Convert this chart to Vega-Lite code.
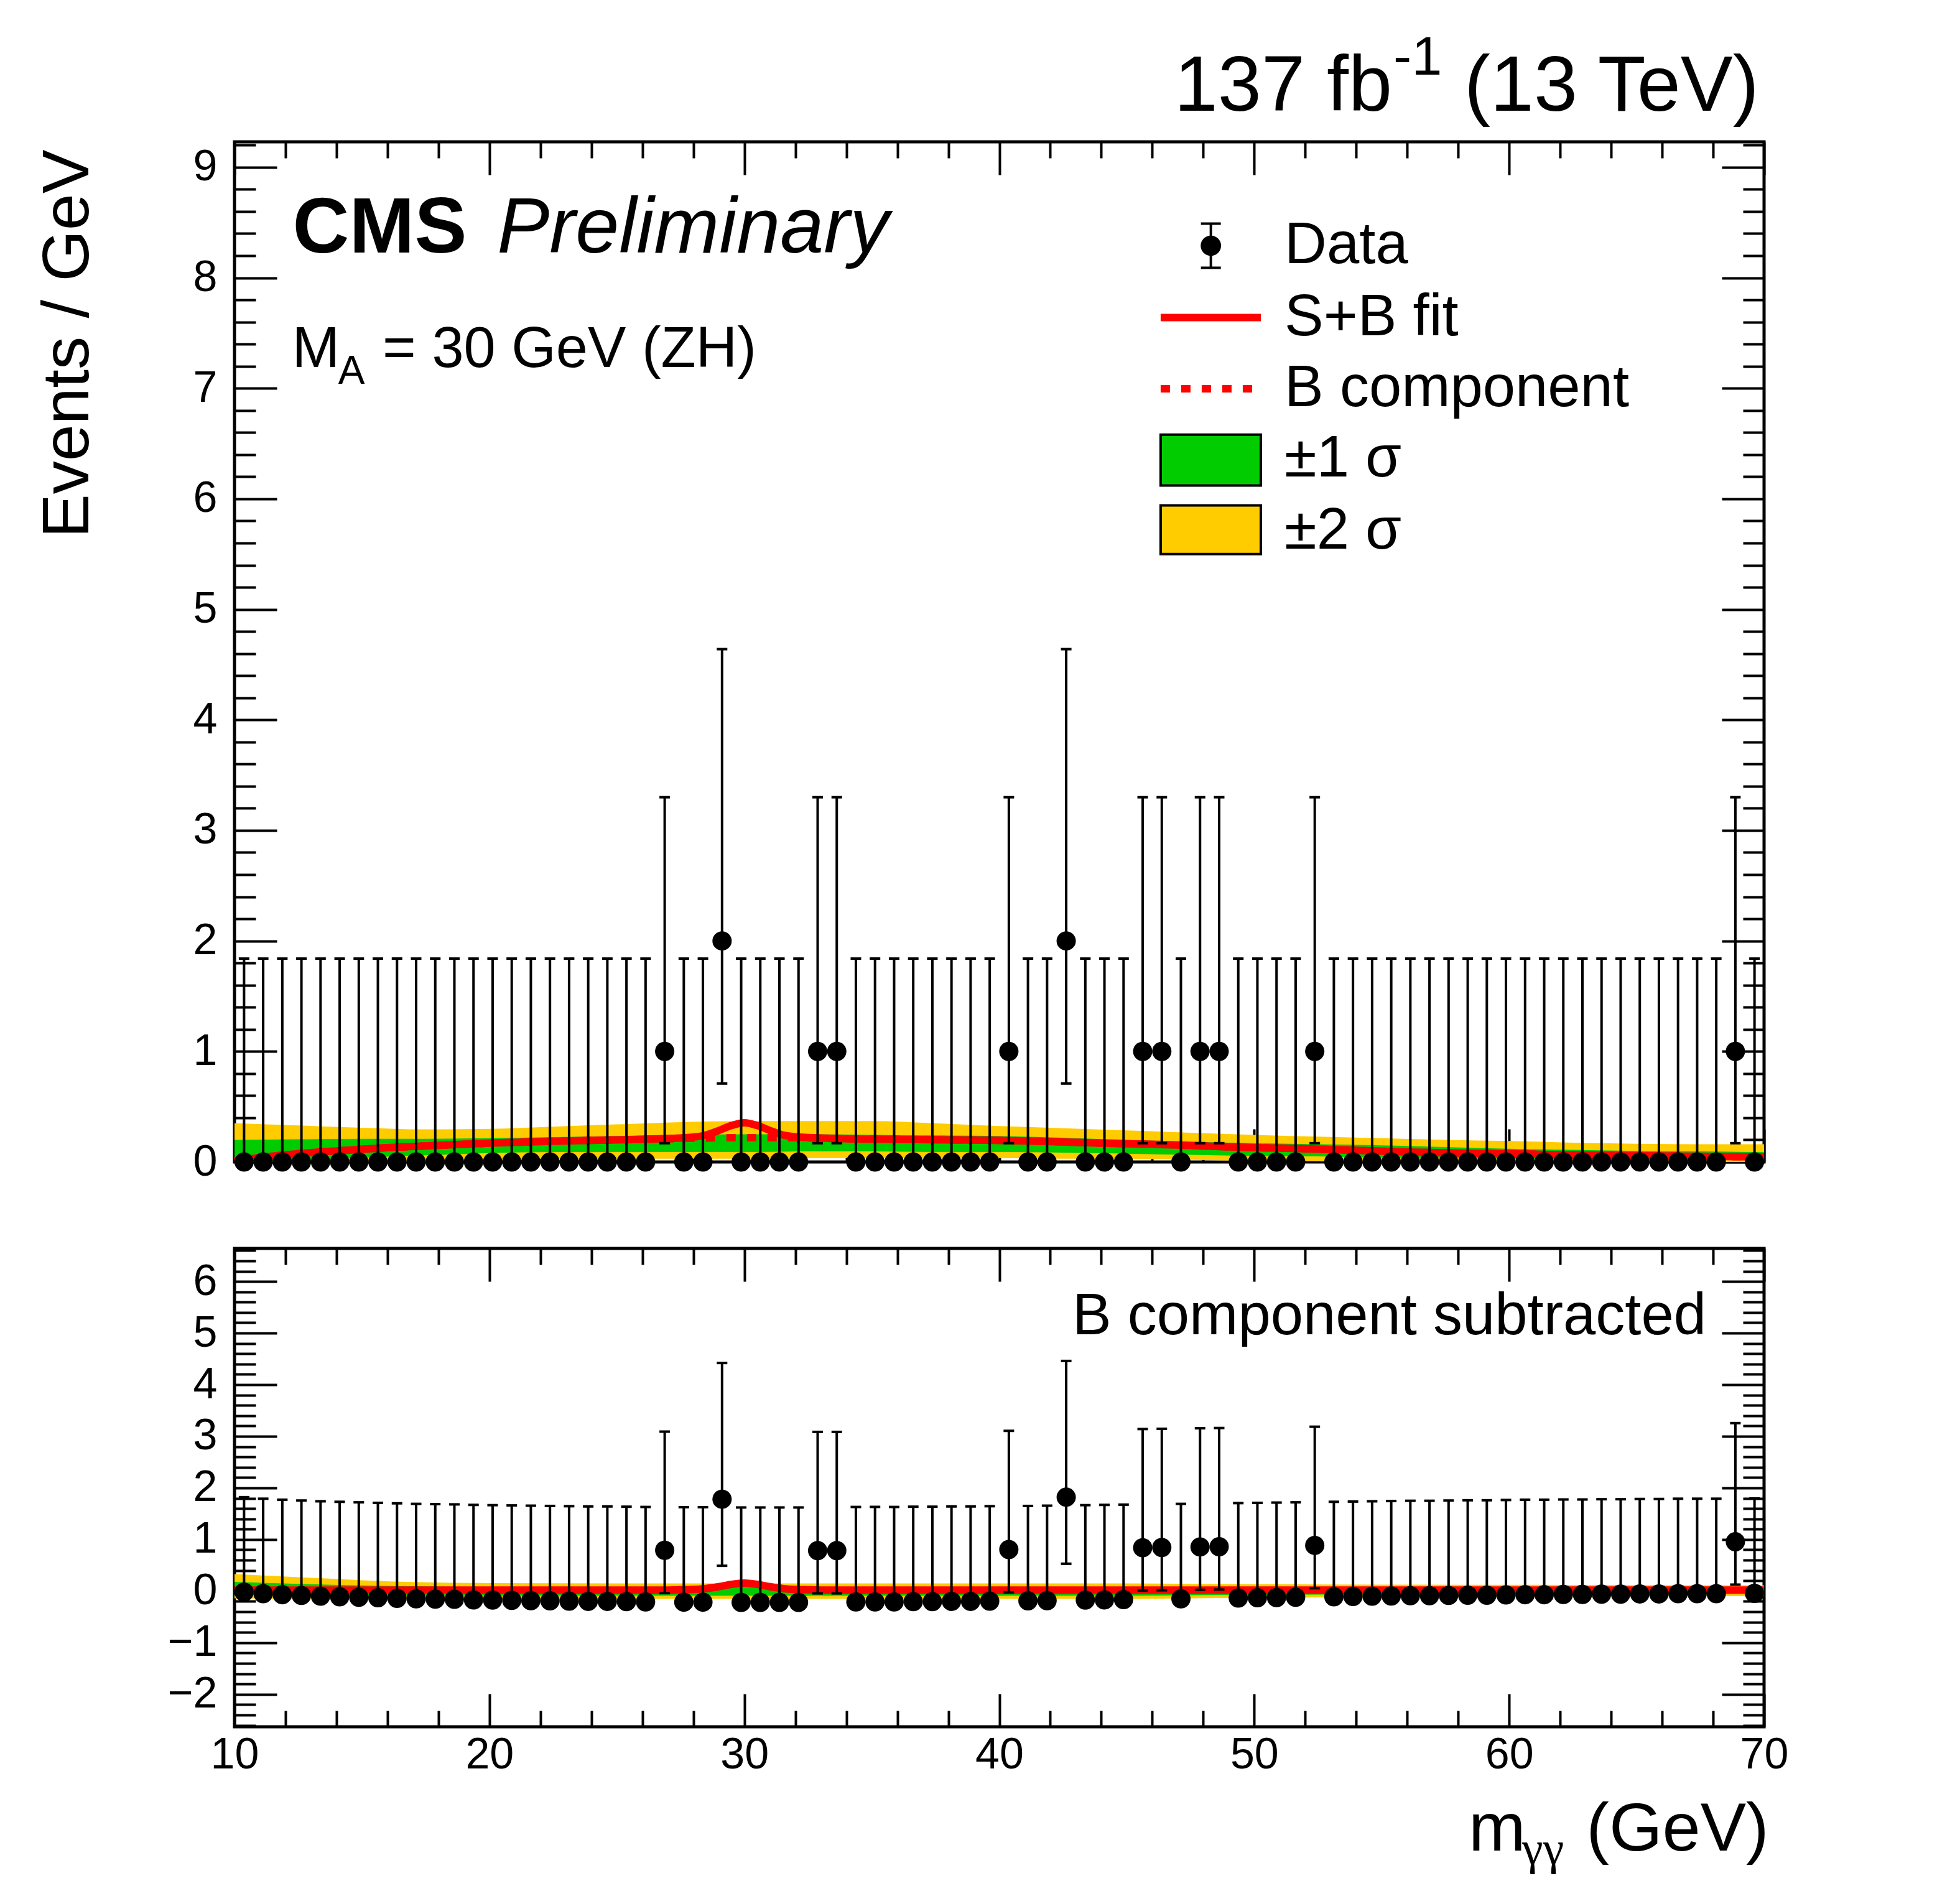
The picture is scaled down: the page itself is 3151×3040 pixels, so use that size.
{
  "$schema": "https://vega.github.io/schema/vega-lite/v6.json",
  "padding": {"left": 53, "top": 47, "right": 5, "bottom": 5},
  "background": "white",
  "config": {
    "font": "Liberation Sans",
    "view": {"stroke": "#000000", "strokeWidth": 5},
    "axis": {
      "domain": false, "grid": false, "tickColor": "#000000", "tickWidth": 4,
      "labelColor": "#000000", "labelFont": "Liberation Sans", "labelFontSize": 70,
      "labelFlush": false, "labelOverlap": false
    }
  },
  "datasets": {
    "bins": [
      {"x":10.375,"n":0,"lo":0,"hi":1.84},{"x":11.125,"n":0,"lo":0,"hi":1.84},{"x":11.875,"n":0,"lo":0,"hi":1.84},{"x":12.625,"n":0,"lo":0,"hi":1.84},
      {"x":13.375,"n":0,"lo":0,"hi":1.84},{"x":14.125,"n":0,"lo":0,"hi":1.84},{"x":14.875,"n":0,"lo":0,"hi":1.84},{"x":15.625,"n":0,"lo":0,"hi":1.84},
      {"x":16.375,"n":0,"lo":0,"hi":1.84},{"x":17.125,"n":0,"lo":0,"hi":1.84},{"x":17.875,"n":0,"lo":0,"hi":1.84},{"x":18.625,"n":0,"lo":0,"hi":1.84},
      {"x":19.375,"n":0,"lo":0,"hi":1.84},{"x":20.125,"n":0,"lo":0,"hi":1.84},{"x":20.875,"n":0,"lo":0,"hi":1.84},{"x":21.625,"n":0,"lo":0,"hi":1.84},
      {"x":22.375,"n":0,"lo":0,"hi":1.84},{"x":23.125,"n":0,"lo":0,"hi":1.84},{"x":23.875,"n":0,"lo":0,"hi":1.84},{"x":24.625,"n":0,"lo":0,"hi":1.84},
      {"x":25.375,"n":0,"lo":0,"hi":1.84},{"x":26.125,"n":0,"lo":0,"hi":1.84},{"x":26.875,"n":1,"lo":0.17,"hi":3.3},{"x":27.625,"n":0,"lo":0,"hi":1.84},
      {"x":28.375,"n":0,"lo":0,"hi":1.84},{"x":29.125,"n":2,"lo":0.71,"hi":4.64},{"x":29.875,"n":0,"lo":0,"hi":1.84},{"x":30.625,"n":0,"lo":0,"hi":1.84},
      {"x":31.375,"n":0,"lo":0,"hi":1.84},{"x":32.125,"n":0,"lo":0,"hi":1.84},{"x":32.875,"n":1,"lo":0.17,"hi":3.3},{"x":33.625,"n":1,"lo":0.17,"hi":3.3},
      {"x":34.375,"n":0,"lo":0,"hi":1.84},{"x":35.125,"n":0,"lo":0,"hi":1.84},{"x":35.875,"n":0,"lo":0,"hi":1.84},{"x":36.625,"n":0,"lo":0,"hi":1.84},
      {"x":37.375,"n":0,"lo":0,"hi":1.84},{"x":38.125,"n":0,"lo":0,"hi":1.84},{"x":38.875,"n":0,"lo":0,"hi":1.84},{"x":39.625,"n":0,"lo":0,"hi":1.84},
      {"x":40.375,"n":1,"lo":0.17,"hi":3.3},{"x":41.125,"n":0,"lo":0,"hi":1.84},{"x":41.875,"n":0,"lo":0,"hi":1.84},{"x":42.625,"n":2,"lo":0.71,"hi":4.64},
      {"x":43.375,"n":0,"lo":0,"hi":1.84},{"x":44.125,"n":0,"lo":0,"hi":1.84},{"x":44.875,"n":0,"lo":0,"hi":1.84},{"x":45.625,"n":1,"lo":0.17,"hi":3.3},
      {"x":46.375,"n":1,"lo":0.17,"hi":3.3},{"x":47.125,"n":0,"lo":0,"hi":1.84},{"x":47.875,"n":1,"lo":0.17,"hi":3.3},{"x":48.625,"n":1,"lo":0.17,"hi":3.3},
      {"x":49.375,"n":0,"lo":0,"hi":1.84},{"x":50.125,"n":0,"lo":0,"hi":1.84},{"x":50.875,"n":0,"lo":0,"hi":1.84},{"x":51.625,"n":0,"lo":0,"hi":1.84},
      {"x":52.375,"n":1,"lo":0.17,"hi":3.3},{"x":53.125,"n":0,"lo":0,"hi":1.84},{"x":53.875,"n":0,"lo":0,"hi":1.84},{"x":54.625,"n":0,"lo":0,"hi":1.84},
      {"x":55.375,"n":0,"lo":0,"hi":1.84},{"x":56.125,"n":0,"lo":0,"hi":1.84},{"x":56.875,"n":0,"lo":0,"hi":1.84},{"x":57.625,"n":0,"lo":0,"hi":1.84},
      {"x":58.375,"n":0,"lo":0,"hi":1.84},{"x":59.125,"n":0,"lo":0,"hi":1.84},{"x":59.875,"n":0,"lo":0,"hi":1.84},{"x":60.625,"n":0,"lo":0,"hi":1.84},
      {"x":61.375,"n":0,"lo":0,"hi":1.84},{"x":62.125,"n":0,"lo":0,"hi":1.84},{"x":62.875,"n":0,"lo":0,"hi":1.84},{"x":63.625,"n":0,"lo":0,"hi":1.84},
      {"x":64.375,"n":0,"lo":0,"hi":1.84},{"x":65.125,"n":0,"lo":0,"hi":1.84},{"x":65.875,"n":0,"lo":0,"hi":1.84},{"x":66.625,"n":0,"lo":0,"hi":1.84},
      {"x":67.375,"n":0,"lo":0,"hi":1.84},{"x":68.125,"n":0,"lo":0,"hi":1.84},{"x":68.875,"n":1,"lo":0.17,"hi":3.3},{"x":69.625,"n":0,"lo":0,"hi":1.84}
    ],
    "resid": [
      {"x":10.375,"v":-0.02,"lo":-0.02,"hi":1.82},{"x":11.125,"v":-0.05,"lo":-0.05,"hi":1.79},{"x":11.875,"v":-0.07,"lo":-0.07,"hi":1.77},{"x":12.625,"v":-0.085,"lo":-0.085,"hi":1.755},
      {"x":13.375,"v":-0.1,"lo":-0.1,"hi":1.74},{"x":14.125,"v":-0.11,"lo":-0.11,"hi":1.73},{"x":14.875,"v":-0.12,"lo":-0.12,"hi":1.72},{"x":15.625,"v":-0.13,"lo":-0.13,"hi":1.71},
      {"x":16.375,"v":-0.14,"lo":-0.14,"hi":1.7},{"x":17.125,"v":-0.15,"lo":-0.15,"hi":1.69},{"x":17.875,"v":-0.155,"lo":-0.155,"hi":1.685},{"x":18.625,"v":-0.16,"lo":-0.16,"hi":1.68},
      {"x":19.375,"v":-0.17,"lo":-0.17,"hi":1.67},{"x":20.125,"v":-0.175,"lo":-0.175,"hi":1.665},{"x":20.875,"v":-0.18,"lo":-0.18,"hi":1.66},{"x":21.625,"v":-0.185,"lo":-0.185,"hi":1.655},
      {"x":22.375,"v":-0.19,"lo":-0.19,"hi":1.65},{"x":23.125,"v":-0.195,"lo":-0.195,"hi":1.645},{"x":23.875,"v":-0.2,"lo":-0.2,"hi":1.64},{"x":24.625,"v":-0.2,"lo":-0.2,"hi":1.64},
      {"x":25.375,"v":-0.205,"lo":-0.205,"hi":1.635},{"x":26.125,"v":-0.21,"lo":-0.21,"hi":1.63},{"x":26.875,"v":0.79,"lo":-0.04,"hi":3.09},{"x":27.625,"v":-0.215,"lo":-0.215,"hi":1.625},
      {"x":28.375,"v":-0.215,"lo":-0.215,"hi":1.625},{"x":29.125,"v":1.78,"lo":0.49,"hi":4.42},{"x":29.875,"v":-0.22,"lo":-0.22,"hi":1.62},{"x":30.625,"v":-0.22,"lo":-0.22,"hi":1.62},
      {"x":31.375,"v":-0.22,"lo":-0.22,"hi":1.62},{"x":32.125,"v":-0.22,"lo":-0.22,"hi":1.62},{"x":32.875,"v":0.785,"lo":-0.045,"hi":3.085},{"x":33.625,"v":0.785,"lo":-0.045,"hi":3.085},
      {"x":34.375,"v":-0.21,"lo":-0.21,"hi":1.63},{"x":35.125,"v":-0.21,"lo":-0.21,"hi":1.63},{"x":35.875,"v":-0.21,"lo":-0.21,"hi":1.63},{"x":36.625,"v":-0.205,"lo":-0.205,"hi":1.635},
      {"x":37.375,"v":-0.205,"lo":-0.205,"hi":1.635},{"x":38.125,"v":-0.2,"lo":-0.2,"hi":1.64},{"x":38.875,"v":-0.2,"lo":-0.2,"hi":1.64},{"x":39.625,"v":-0.195,"lo":-0.195,"hi":1.645},
      {"x":40.375,"v":0.805,"lo":-0.025,"hi":3.105},{"x":41.125,"v":-0.19,"lo":-0.19,"hi":1.65},{"x":41.875,"v":-0.185,"lo":-0.185,"hi":1.655},{"x":42.625,"v":1.82,"lo":0.53,"hi":4.46},
      {"x":43.375,"v":-0.175,"lo":-0.175,"hi":1.665},{"x":44.125,"v":-0.17,"lo":-0.17,"hi":1.67},{"x":44.875,"v":-0.165,"lo":-0.165,"hi":1.675},{"x":45.625,"v":0.84,"lo":0.01,"hi":3.14},
      {"x":46.375,"v":0.845,"lo":0.015,"hi":3.145},{"x":47.125,"v":-0.15,"lo":-0.15,"hi":1.69},{"x":47.875,"v":0.855,"lo":0.025,"hi":3.155},{"x":48.625,"v":0.86,"lo":0.03,"hi":3.16},
      {"x":49.375,"v":-0.135,"lo":-0.135,"hi":1.705},{"x":50.125,"v":-0.13,"lo":-0.13,"hi":1.71},{"x":50.875,"v":-0.125,"lo":-0.125,"hi":1.715},{"x":51.625,"v":-0.12,"lo":-0.12,"hi":1.72},
      {"x":52.375,"v":0.885,"lo":0.055,"hi":3.185},{"x":53.125,"v":-0.11,"lo":-0.11,"hi":1.73},{"x":53.875,"v":-0.105,"lo":-0.105,"hi":1.735},{"x":54.625,"v":-0.1,"lo":-0.1,"hi":1.74},
      {"x":55.375,"v":-0.095,"lo":-0.095,"hi":1.745},{"x":56.125,"v":-0.09,"lo":-0.09,"hi":1.75},{"x":56.875,"v":-0.09,"lo":-0.09,"hi":1.75},{"x":57.625,"v":-0.085,"lo":-0.085,"hi":1.755},
      {"x":58.375,"v":-0.08,"lo":-0.08,"hi":1.76},{"x":59.125,"v":-0.08,"lo":-0.08,"hi":1.76},{"x":59.875,"v":-0.075,"lo":-0.075,"hi":1.765},{"x":60.625,"v":-0.07,"lo":-0.07,"hi":1.77},
      {"x":61.375,"v":-0.07,"lo":-0.07,"hi":1.77},{"x":62.125,"v":-0.065,"lo":-0.065,"hi":1.775},{"x":62.875,"v":-0.065,"lo":-0.065,"hi":1.775},{"x":63.625,"v":-0.06,"lo":-0.06,"hi":1.78},
      {"x":64.375,"v":-0.06,"lo":-0.06,"hi":1.78},{"x":65.125,"v":-0.055,"lo":-0.055,"hi":1.785},{"x":65.875,"v":-0.055,"lo":-0.055,"hi":1.785},{"x":66.625,"v":-0.05,"lo":-0.05,"hi":1.79},
      {"x":67.375,"v":-0.05,"lo":-0.05,"hi":1.79},{"x":68.125,"v":-0.05,"lo":-0.05,"hi":1.79},{"x":68.875,"v":0.955,"lo":0.125,"hi":3.255},{"x":69.625,"v":-0.045,"lo":-0.045,"hi":1.795}
    ],
    "bandTop": [
      {"x":10,"ylo":0,"glo":0,"ghi":0.2,"yhi":0.35},{"x":12.5,"ylo":0,"glo":0.02,"ghi":0.205,"yhi":0.33},
      {"x":15,"ylo":0,"glo":0.04,"ghi":0.21,"yhi":0.31},{"x":17.5,"ylo":0,"glo":0.06,"ghi":0.21,"yhi":0.295},
      {"x":20,"ylo":0.02,"glo":0.08,"ghi":0.215,"yhi":0.3},{"x":22.5,"ylo":0.03,"glo":0.09,"ghi":0.225,"yhi":0.32},
      {"x":25,"ylo":0.03,"glo":0.09,"ghi":0.235,"yhi":0.34},{"x":27.5,"ylo":0.03,"glo":0.09,"ghi":0.245,"yhi":0.36},
      {"x":30,"ylo":0.03,"glo":0.09,"ghi":0.25,"yhi":0.37},{"x":32.5,"ylo":0.035,"glo":0.095,"ghi":0.25,"yhi":0.37},
      {"x":35,"ylo":0.035,"glo":0.095,"ghi":0.245,"yhi":0.37},{"x":37.5,"ylo":0.035,"glo":0.09,"ghi":0.24,"yhi":0.35},
      {"x":40,"ylo":0.035,"glo":0.09,"ghi":0.235,"yhi":0.325},{"x":42.5,"ylo":0.03,"glo":0.085,"ghi":0.22,"yhi":0.305},
      {"x":45,"ylo":0.03,"glo":0.075,"ghi":0.2,"yhi":0.285},{"x":47.5,"ylo":0.02,"glo":0.065,"ghi":0.185,"yhi":0.265},
      {"x":50,"ylo":0.01,"glo":0.055,"ghi":0.17,"yhi":0.245},{"x":52.5,"ylo":0.005,"glo":0.05,"ghi":0.16,"yhi":0.23},
      {"x":55,"ylo":0,"glo":0.04,"ghi":0.15,"yhi":0.215},{"x":57.5,"ylo":0,"glo":0.035,"ghi":0.135,"yhi":0.2},
      {"x":60,"ylo":0,"glo":0.03,"ghi":0.12,"yhi":0.19},{"x":62.5,"ylo":0,"glo":0.025,"ghi":0.11,"yhi":0.175},
      {"x":65,"ylo":0,"glo":0.02,"ghi":0.1,"yhi":0.165},{"x":67.5,"ylo":0,"glo":0.02,"ghi":0.095,"yhi":0.16},
      {"x":70,"ylo":0,"glo":0.02,"ghi":0.09,"yhi":0.16}
    ],
    "bandBot": [
      {"x":10,"ylo":-0.14,"glo":-0.08,"ghi":0.18,"yhi":0.33},{"x":12.5,"ylo":-0.15,"glo":-0.09,"ghi":0.14,"yhi":0.27},
      {"x":15,"ylo":-0.15,"glo":-0.09,"ghi":0.11,"yhi":0.21},{"x":17.5,"ylo":-0.15,"glo":-0.09,"ghi":0.09,"yhi":0.17},
      {"x":20,"ylo":-0.15,"glo":-0.09,"ghi":0.08,"yhi":0.155},{"x":25,"ylo":-0.15,"glo":-0.09,"ghi":0.08,"yhi":0.15},
      {"x":30,"ylo":-0.15,"glo":-0.09,"ghi":0.08,"yhi":0.15},{"x":35,"ylo":-0.15,"glo":-0.09,"ghi":0.08,"yhi":0.15},
      {"x":40,"ylo":-0.15,"glo":-0.09,"ghi":0.08,"yhi":0.15},{"x":45,"ylo":-0.15,"glo":-0.09,"ghi":0.08,"yhi":0.15},
      {"x":47.5,"ylo":-0.14,"glo":-0.08,"ghi":0.075,"yhi":0.14},{"x":50,"ylo":-0.13,"glo":-0.075,"ghi":0.07,"yhi":0.135},
      {"x":55,"ylo":-0.12,"glo":-0.065,"ghi":0.065,"yhi":0.125},{"x":60,"ylo":-0.11,"glo":-0.06,"ghi":0.06,"yhi":0.12},
      {"x":65,"ylo":-0.1,"glo":-0.055,"ghi":0.055,"yhi":0.115},{"x":70,"ylo":-0.1,"glo":-0.05,"ghi":0.05,"yhi":0.11}
    ],
    "fit": [
      {"x":10,"b":0.01,"sb":0.01},{"x":11,"b":0.04,"sb":0.04},{"x":12,"b":0.065,"sb":0.065},{"x":13,"b":0.085,"sb":0.085},
      {"x":14,"b":0.1,"sb":0.1},{"x":15,"b":0.115,"sb":0.115},{"x":16,"b":0.13,"sb":0.13},{"x":17,"b":0.14,"sb":0.14},
      {"x":18,"b":0.15,"sb":0.15},{"x":19,"b":0.16,"sb":0.16},{"x":20,"b":0.17,"sb":0.17},{"x":22,"b":0.185,"sb":0.185},
      {"x":24,"b":0.195,"sb":0.195},{"x":26,"b":0.205,"sb":0.205},{"x":27,"b":0.21,"sb":0.212},{"x":28,"b":0.215,"sb":0.225},
      {"x":28.5,"b":0.215,"sb":0.245},{"x":29,"b":0.22,"sb":0.285},{"x":29.5,"b":0.22,"sb":0.33},{"x":30,"b":0.22,"sb":0.355},
      {"x":30.5,"b":0.22,"sb":0.33},{"x":31,"b":0.22,"sb":0.285},{"x":31.5,"b":0.22,"sb":0.245},{"x":32,"b":0.22,"sb":0.228},
      {"x":33,"b":0.215,"sb":0.217},{"x":34,"b":0.21,"sb":0.21},{"x":36,"b":0.205,"sb":0.205},{"x":38,"b":0.2,"sb":0.2},
      {"x":40,"b":0.195,"sb":0.195},{"x":42,"b":0.185,"sb":0.185},{"x":44,"b":0.17,"sb":0.17},{"x":46,"b":0.16,"sb":0.16},
      {"x":48,"b":0.145,"sb":0.145},{"x":50,"b":0.13,"sb":0.13},{"x":52,"b":0.12,"sb":0.12},{"x":54,"b":0.105,"sb":0.105},
      {"x":56,"b":0.09,"sb":0.09},{"x":58,"b":0.08,"sb":0.08},{"x":60,"b":0.075,"sb":0.075},{"x":62,"b":0.065,"sb":0.065},
      {"x":64,"b":0.06,"sb":0.06},{"x":66,"b":0.055,"sb":0.055},{"x":68,"b":0.05,"sb":0.05},{"x":70,"b":0.045,"sb":0.045}
    ],
    "sig": [
      {"x":10,"s":0.02},{"x":27,"s":0.02},{"x":28,"s":0.03},{"x":28.5,"s":0.05},{"x":29,"s":0.085},{"x":29.5,"s":0.13},
      {"x":30,"s":0.155},{"x":30.5,"s":0.13},{"x":31,"s":0.085},{"x":31.5,"s":0.05},{"x":32,"s":0.03},{"x":33,"s":0.02},{"x":70,"s":0.02}
    ],
    "legendBoxes": [
      {"entry":"±1 σ","x":46.33,"x2":50.26,"y":6.12,"y2":6.58},
      {"entry":"±2 σ","x":46.33,"x2":50.26,"y":5.5,"y2":5.94}
    ],
    "legendLabels": [
      {"t":"Data","x":51.19,"y":8.13},{"t":"S+B fit","x":51.19,"y":7.48},{"t":"B component","x":51.19,"y":6.84},
      {"t":"±1 σ","x":51.19,"y":6.2},{"t":"±2 σ","x":51.19,"y":5.55}
    ]
  },
  "bounds": "flush",
  "spacing": 139,
  "vconcat": [
    {
      "width": 2459,
      "height": 1640,
      "resolve": {"axis": {"x": "independent", "y": "independent"}},
      "layer": [
        {
          "data": {"name": "bandTop"},
          "mark": {"type": "area", "interpolate": "monotone", "color": "#ffcc00"},
          "encoding": {
            "x": {"field": "x", "type": "quantitative", "scale": {"domain": [10, 70], "nice": false, "zero": false},
                  "axis": {"orient": "bottom", "values": [10, 20, 30, 40, 50, 60, 70], "tickSize": -53, "labels": false, "title": null}},
            "y": {"field": "ylo", "type": "quantitative", "scale": {"domain": [0, 9.23], "nice": false, "zero": false},
                  "axis": {"orient": "left", "values": [0, 1, 2, 3, 4, 5, 6, 7, 8, 9], "tickSize": -68, "labelPadding": 96,
                           "title": "Events / GeV", "titleFont": "Liberation Sans", "titleFontSize": 106, "titleFontWeight": "normal",
                           "titleColor": "#000000", "titleAngle": 270, "titleAlign": "right", "titleBaseline": "alphabetic",
                           "titleX": -236, "titleY": 12}},
            "y2": {"field": "yhi"}
          }
        },
        {
          "data": {"name": "bandTop"},
          "mark": {"type": "area", "interpolate": "monotone", "color": "#00cc00"},
          "encoding": {
            "x": {"field": "x", "type": "quantitative", "scale": {"domain": [10, 70], "nice": false, "zero": false},
                  "axis": {"orient": "bottom", "values": [12, 14, 16, 18, 22, 24, 26, 28, 32, 34, 36, 38, 42, 44, 46, 48, 52, 54, 56, 58, 62, 64, 66, 68], "tickSize": -26, "labels": false, "title": null}},
            "y": {"field": "glo", "type": "quantitative", "scale": {"domain": [0, 9.23], "nice": false, "zero": false},
                  "axis": {"orient": "left", "values": [0.2, 0.4, 0.6, 0.8, 1.2, 1.4, 1.6, 1.8, 2.2, 2.4, 2.6, 2.8, 3.2, 3.4, 3.6, 3.8, 4.2, 4.4, 4.6, 4.8, 5.2, 5.4, 5.6, 5.8, 6.2, 6.4, 6.6, 6.8, 7.2, 7.4, 7.6, 7.8, 8.2, 8.4, 8.6, 8.8, 9.2], "tickSize": -34, "labels": false, "title": null}},
            "y2": {"field": "ghi"}
          }
        },
        {
          "data": {"name": "fit"},
          "mark": {"type": "line", "strokeWidth": 12, "strokeDash": [15, 18], "color": "#ff0000", "interpolate": "monotone"},
          "encoding": {
            "x": {"field": "x", "type": "quantitative", "scale": {"domain": [10, 70], "nice": false, "zero": false},
                  "axis": {"orient": "top", "values": [10, 20, 30, 40, 50, 60, 70], "tickSize": -53, "labels": false, "title": null}},
            "y": {"field": "b", "type": "quantitative", "scale": {"domain": [0, 9.23], "nice": false, "zero": false},
                  "axis": {"orient": "right", "values": [0, 1, 2, 3, 4, 5, 6, 7, 8, 9], "tickSize": -68, "labels": false, "title": null}}
          }
        },
        {
          "data": {"name": "fit"},
          "mark": {"type": "line", "strokeWidth": 12, "color": "#ff0000", "interpolate": "monotone"},
          "encoding": {
            "x": {"field": "x", "type": "quantitative", "scale": {"domain": [10, 70], "nice": false, "zero": false},
                  "axis": {"orient": "top", "values": [12, 14, 16, 18, 22, 24, 26, 28, 32, 34, 36, 38, 42, 44, 46, 48, 52, 54, 56, 58, 62, 64, 66, 68], "tickSize": -26, "labels": false, "title": null}},
            "y": {"field": "sb", "type": "quantitative", "scale": {"domain": [0, 9.23], "nice": false, "zero": false},
                  "axis": {"orient": "right", "values": [0.2, 0.4, 0.6, 0.8, 1.2, 1.4, 1.6, 1.8, 2.2, 2.4, 2.6, 2.8, 3.2, 3.4, 3.6, 3.8, 4.2, 4.4, 4.6, 4.8, 5.2, 5.4, 5.6, 5.8, 6.2, 6.4, 6.6, 6.8, 7.2, 7.4, 7.6, 7.8, 8.2, 8.4, 8.6, 8.8, 9.2], "tickSize": -34, "labels": false, "title": null}}
          }
        },
        {
          "data": {"name": "bins"},
          "mark": {"type": "rule", "strokeWidth": 4, "color": "#000000"},
          "encoding": {
            "x": {"field": "x", "type": "quantitative", "scale": {"domain": [10, 70], "nice": false, "zero": false}, "axis": null},
            "y": {"field": "lo", "type": "quantitative", "scale": {"domain": [0, 9.23], "nice": false, "zero": false}, "axis": null},
            "y2": {"field": "hi"}
          }
        },
        {
          "data": {"name": "bins"},
          "mark": {"type": "tick", "orient": "horizontal", "size": 17, "thickness": 4, "color": "#000000", "opacity": 1},
          "encoding": {
            "x": {"field": "x", "type": "quantitative", "scale": {"domain": [10, 70], "nice": false, "zero": false}, "axis": null},
            "y": {"field": "hi", "type": "quantitative", "scale": {"domain": [0, 9.23], "nice": false, "zero": false}, "axis": null}
          }
        },
        {
          "data": {"name": "bins"},
          "mark": {"type": "tick", "orient": "horizontal", "size": 17, "thickness": 4, "color": "#000000", "opacity": 1},
          "encoding": {
            "x": {"field": "x", "type": "quantitative", "scale": {"domain": [10, 70], "nice": false, "zero": false}, "axis": null},
            "y": {"field": "lo", "type": "quantitative", "scale": {"domain": [0, 9.23], "nice": false, "zero": false}, "axis": null}
          }
        },
        {
          "data": {"name": "bins"},
          "mark": {"type": "point", "shape": "circle", "filled": true, "size": 960, "color": "#000000", "opacity": 1},
          "encoding": {
            "x": {"field": "x", "type": "quantitative", "scale": {"domain": [10, 70], "nice": false, "zero": false}, "axis": null},
            "y": {"field": "n", "type": "quantitative", "scale": {"domain": [0, 9.23], "nice": false, "zero": false}, "axis": null}
          }
        },
        {
          "data": {"values": [{"entry": "Data", "x": 48.3, "y": 8.09, "y2": 8.49}]},
          "mark": {"type": "rule", "strokeWidth": 4, "color": "#000000"},
          "encoding": {
            "x": {"field": "x", "type": "quantitative", "scale": {"domain": [10, 70], "nice": false, "zero": false}, "axis": null},
            "y": {"field": "y", "type": "quantitative", "scale": {"domain": [0, 9.23], "nice": false, "zero": false}, "axis": null},
            "y2": {"field": "y2"}
          }
        },
        {
          "data": {"values": [{"entry": "Data", "x": 48.3, "y": 8.09}, {"entry": "Data", "x": 48.3, "y": 8.49}]},
          "mark": {"type": "tick", "orient": "horizontal", "size": 32, "thickness": 4, "color": "#000000", "opacity": 1},
          "encoding": {
            "x": {"field": "x", "type": "quantitative", "scale": {"domain": [10, 70], "nice": false, "zero": false}, "axis": null},
            "y": {"field": "y", "type": "quantitative", "scale": {"domain": [0, 9.23], "nice": false, "zero": false}, "axis": null}
          }
        },
        {
          "data": {"values": [{"entry": "Data", "x": 48.3, "y": 8.29}]},
          "mark": {"type": "point", "shape": "circle", "filled": true, "size": 1075, "color": "#000000", "opacity": 1},
          "encoding": {
            "x": {"field": "x", "type": "quantitative", "scale": {"domain": [10, 70], "nice": false, "zero": false}, "axis": null},
            "y": {"field": "y", "type": "quantitative", "scale": {"domain": [0, 9.23], "nice": false, "zero": false}, "axis": null}
          }
        },
        {
          "data": {"values": [{"entry": "S+B fit", "x": 46.33, "x2": 50.26, "y": 7.64}]},
          "mark": {"type": "rule", "strokeWidth": 12, "color": "#ff0000"},
          "encoding": {
            "x": {"field": "x", "type": "quantitative", "scale": {"domain": [10, 70], "nice": false, "zero": false}, "axis": null},
            "x2": {"field": "x2"},
            "y": {"field": "y", "type": "quantitative", "scale": {"domain": [0, 9.23], "nice": false, "zero": false}, "axis": null}
          }
        },
        {
          "data": {"values": [{"entry": "B component", "x": 46.33, "x2": 50.26, "y": 6.995}]},
          "mark": {"type": "rule", "strokeWidth": 12, "strokeDash": [15, 18], "color": "#ff0000"},
          "encoding": {
            "x": {"field": "x", "type": "quantitative", "scale": {"domain": [10, 70], "nice": false, "zero": false}, "axis": null},
            "x2": {"field": "x2"},
            "y": {"field": "y", "type": "quantitative", "scale": {"domain": [0, 9.23], "nice": false, "zero": false}, "axis": null}
          }
        },
        {
          "data": {"name": "legendBoxes"},
          "mark": {"type": "rect", "stroke": "#000000", "strokeWidth": 4, "opacity": 1},
          "encoding": {
            "x": {"field": "x", "type": "quantitative", "scale": {"domain": [10, 70], "nice": false, "zero": false}, "axis": null},
            "x2": {"field": "x2"},
            "y": {"field": "y", "type": "quantitative", "scale": {"domain": [0, 9.23], "nice": false, "zero": false}, "axis": null},
            "y2": {"field": "y2"},
            "fill": {"field": "entry", "type": "nominal", "scale": {"domain": ["±1 σ", "±2 σ"], "range": ["#00cc00", "#ffcc00"]}, "legend": null}
          }
        },
        {
          "data": {"name": "legendLabels"},
          "mark": {"type": "text", "align": "left", "baseline": "alphabetic", "fontSize": 94, "color": "#000000"},
          "encoding": {
            "x": {"field": "x", "type": "quantitative", "scale": {"domain": [10, 70], "nice": false, "zero": false}, "axis": null},
            "y": {"field": "y", "type": "quantitative", "scale": {"domain": [0, 9.23], "nice": false, "zero": false}, "axis": null},
            "text": {"field": "t"}
          }
        },
        {
          "data": {"values": [{"t": "CMS", "x": 12.28, "y": 8.23}]},
          "mark": {"type": "text", "align": "left", "baseline": "alphabetic", "fontSize": 126, "fontWeight": "bold", "color": "#000000"},
          "encoding": {
            "x": {"field": "x", "type": "quantitative", "scale": {"domain": [10, 70], "nice": false, "zero": false}, "axis": null},
            "y": {"field": "y", "type": "quantitative", "scale": {"domain": [0, 9.23], "nice": false, "zero": false}, "axis": null},
            "text": {"field": "t"}
          }
        },
        {
          "data": {"values": [{"t": "Preliminary", "x": 20.3, "y": 8.23}]},
          "mark": {"type": "text", "align": "left", "baseline": "alphabetic", "fontSize": 126, "fontStyle": "italic", "color": "#000000"},
          "encoding": {
            "x": {"field": "x", "type": "quantitative", "scale": {"domain": [10, 70], "nice": false, "zero": false}, "axis": null},
            "y": {"field": "y", "type": "quantitative", "scale": {"domain": [0, 9.23], "nice": false, "zero": false}, "axis": null},
            "text": {"field": "t"}
          }
        },
        {
          "data": {"values": [{"t": "M", "x": 12.26, "y": 7.19}, {"t": "= 30 GeV (ZH)", "x": 15.81, "y": 7.19}]},
          "mark": {"type": "text", "align": "left", "baseline": "alphabetic", "fontSize": 92, "color": "#000000"},
          "encoding": {
            "x": {"field": "x", "type": "quantitative", "scale": {"domain": [10, 70], "nice": false, "zero": false}, "axis": null},
            "y": {"field": "y", "type": "quantitative", "scale": {"domain": [0, 9.23], "nice": false, "zero": false}, "axis": null},
            "text": {"field": "t"}
          }
        },
        {
          "data": {"values": [{"t": "A", "x": 14.07, "y": 7.04}]},
          "mark": {"type": "text", "align": "left", "baseline": "alphabetic", "fontSize": 64, "color": "#000000"},
          "encoding": {
            "x": {"field": "x", "type": "quantitative", "scale": {"domain": [10, 70], "nice": false, "zero": false}, "axis": null},
            "y": {"field": "y", "type": "quantitative", "scale": {"domain": [0, 9.23], "nice": false, "zero": false}, "axis": null},
            "text": {"field": "t"}
          }
        },
        {
          "data": {"values": [{"t": "137 fb", "x": 55.41, "y": 9.514}, {"t": "(13 TeV)", "x": 69.8, "y": 9.514}]},
          "mark": {"type": "text", "align": "right", "baseline": "alphabetic", "fontSize": 126, "color": "#000000"},
          "encoding": {
            "x": {"field": "x", "type": "quantitative", "scale": {"domain": [10, 70], "nice": false, "zero": false}, "axis": null},
            "y": {"field": "y", "type": "quantitative", "scale": {"domain": [0, 9.23], "nice": false, "zero": false}, "axis": null},
            "text": {"field": "t"}
          }
        },
        {
          "data": {"values": [{"t": "-1", "x": 55.46, "y": 9.84}]},
          "mark": {"type": "text", "align": "left", "baseline": "alphabetic", "fontSize": 88, "color": "#000000"},
          "encoding": {
            "x": {"field": "x", "type": "quantitative", "scale": {"domain": [10, 70], "nice": false, "zero": false}, "axis": null},
            "y": {"field": "y", "type": "quantitative", "scale": {"domain": [0, 9.23], "nice": false, "zero": false}, "axis": null},
            "text": {"field": "t"}
          }
        }
      ]
    },
    {
      "width": 2459,
      "height": 769,
      "resolve": {"axis": {"x": "independent", "y": "independent"}},
      "layer": [
        {
          "data": {"name": "bandBot"},
          "mark": {"type": "area", "interpolate": "monotone", "color": "#ffcc00"},
          "encoding": {
            "x": {"field": "x", "type": "quantitative", "scale": {"domain": [10, 70], "nice": false, "zero": false},
                  "axis": {"orient": "bottom", "values": [10, 20, 30, 40, 50, 60, 70], "tickSize": -53, "labelPadding": 64, "title": null}},
            "y": {"field": "ylo", "type": "quantitative", "scale": {"domain": [-2.63, 6.64], "nice": false, "zero": false},
                  "axis": {"orient": "left", "values": [-2, -1, 0, 1, 2, 3, 4, 5, 6], "tickSize": -68, "labelPadding": 96, "title": null}},
            "y2": {"field": "yhi"}
          }
        },
        {
          "data": {"name": "bandBot"},
          "mark": {"type": "area", "interpolate": "monotone", "color": "#00cc00"},
          "encoding": {
            "x": {"field": "x", "type": "quantitative", "scale": {"domain": [10, 70], "nice": false, "zero": false},
                  "axis": {"orient": "bottom", "values": [12, 14, 16, 18, 22, 24, 26, 28, 32, 34, 36, 38, 42, 44, 46, 48, 52, 54, 56, 58, 62, 64, 66, 68], "tickSize": -26, "labels": false, "title": null}},
            "y": {"field": "glo", "type": "quantitative", "scale": {"domain": [-2.63, 6.64], "nice": false, "zero": false},
                  "axis": {"orient": "left", "values": [-2.6, -2.4, -2.2, -1.8, -1.6, -1.4, -1.2, -0.8, -0.6, -0.4, -0.2, 0.2, 0.4, 0.6, 0.8, 1.2, 1.4, 1.6, 1.8, 2.2, 2.4, 2.6, 2.8, 3.2, 3.4, 3.6, 3.8, 4.2, 4.4, 4.6, 4.8, 5.2, 5.4, 5.6, 5.8, 6.2, 6.4, 6.6], "tickSize": -34, "labels": false, "title": null}},
            "y2": {"field": "ghi"}
          }
        },
        {
          "data": {"name": "sig"},
          "mark": {"type": "line", "strokeWidth": 12, "color": "#ff0000", "interpolate": "monotone"},
          "encoding": {
            "x": {"field": "x", "type": "quantitative", "scale": {"domain": [10, 70], "nice": false, "zero": false},
                  "axis": {"orient": "top", "values": [10, 20, 30, 40, 50, 60, 70], "tickSize": -53, "labels": false, "title": null}},
            "y": {"field": "s", "type": "quantitative", "scale": {"domain": [-2.63, 6.64], "nice": false, "zero": false},
                  "axis": {"orient": "right", "values": [-2, -1, 0, 1, 2, 3, 4, 5, 6], "tickSize": -68, "labels": false, "title": null}}
          }
        },
        {
          "data": {"name": "resid"},
          "mark": {"type": "rule", "strokeWidth": 4, "color": "#000000"},
          "encoding": {
            "x": {"field": "x", "type": "quantitative", "scale": {"domain": [10, 70], "nice": false, "zero": false},
                  "axis": {"orient": "top", "values": [12, 14, 16, 18, 22, 24, 26, 28, 32, 34, 36, 38, 42, 44, 46, 48, 52, 54, 56, 58, 62, 64, 66, 68], "tickSize": -26, "labels": false, "title": null}},
            "y": {"field": "lo", "type": "quantitative", "scale": {"domain": [-2.63, 6.64], "nice": false, "zero": false},
                  "axis": {"orient": "right", "values": [-2.6, -2.4, -2.2, -1.8, -1.6, -1.4, -1.2, -0.8, -0.6, -0.4, -0.2, 0.2, 0.4, 0.6, 0.8, 1.2, 1.4, 1.6, 1.8, 2.2, 2.4, 2.6, 2.8, 3.2, 3.4, 3.6, 3.8, 4.2, 4.4, 4.6, 4.8, 5.2, 5.4, 5.6, 5.8, 6.2, 6.4, 6.6], "tickSize": -34, "labels": false, "title": null}},
            "y2": {"field": "hi"}
          }
        },
        {
          "data": {"name": "resid"},
          "mark": {"type": "tick", "orient": "horizontal", "size": 17, "thickness": 4, "color": "#000000", "opacity": 1},
          "encoding": {
            "x": {"field": "x", "type": "quantitative", "scale": {"domain": [10, 70], "nice": false, "zero": false}, "axis": null},
            "y": {"field": "hi", "type": "quantitative", "scale": {"domain": [-2.63, 6.64], "nice": false, "zero": false}, "axis": null}
          }
        },
        {
          "data": {"name": "resid"},
          "mark": {"type": "tick", "orient": "horizontal", "size": 17, "thickness": 4, "color": "#000000", "opacity": 1},
          "encoding": {
            "x": {"field": "x", "type": "quantitative", "scale": {"domain": [10, 70], "nice": false, "zero": false}, "axis": null},
            "y": {"field": "lo", "type": "quantitative", "scale": {"domain": [-2.63, 6.64], "nice": false, "zero": false}, "axis": null}
          }
        },
        {
          "data": {"name": "resid"},
          "mark": {"type": "point", "shape": "circle", "filled": true, "size": 960, "color": "#000000", "opacity": 1},
          "encoding": {
            "x": {"field": "x", "type": "quantitative", "scale": {"domain": [10, 70], "nice": false, "zero": false}, "axis": null},
            "y": {"field": "v", "type": "quantitative", "scale": {"domain": [-2.63, 6.64], "nice": false, "zero": false}, "axis": null}
          }
        },
        {
          "data": {"values": [{"t": "B component subtracted", "x": 67.73, "y": 4.98}]},
          "mark": {"type": "text", "align": "right", "baseline": "alphabetic", "fontSize": 94, "color": "#000000"},
          "encoding": {
            "x": {"field": "x", "type": "quantitative", "scale": {"domain": [10, 70], "nice": false, "zero": false}, "axis": null},
            "y": {"field": "y", "type": "quantitative", "scale": {"domain": [-2.63, 6.64], "nice": false, "zero": false}, "axis": null},
            "text": {"field": "t"}
          }
        },
        {
          "data": {"values": [{"t": "m", "x": 58.41, "y": -5.03}, {"t": "(GeV)", "x": 63.03, "y": -5.03}]},
          "mark": {"type": "text", "align": "left", "baseline": "alphabetic", "fontSize": 110, "color": "#000000"},
          "encoding": {
            "x": {"field": "x", "type": "quantitative", "scale": {"domain": [10, 70], "nice": false, "zero": false}, "axis": null},
            "y": {"field": "y", "type": "quantitative", "scale": {"domain": [-2.63, 6.64], "nice": false, "zero": false}, "axis": null},
            "text": {"field": "t"}
          }
        },
        {
          "data": {"values": [{"t": "γγ", "x": 60.51, "y": -5.29}]},
          "mark": {"type": "text", "align": "left", "baseline": "alphabetic", "fontSize": 76, "font": "Liberation Serif", "color": "#000000"},
          "encoding": {
            "x": {"field": "x", "type": "quantitative", "scale": {"domain": [10, 70], "nice": false, "zero": false}, "axis": null},
            "y": {"field": "y", "type": "quantitative", "scale": {"domain": [-2.63, 6.64], "nice": false, "zero": false}, "axis": null},
            "text": {"field": "t"}
          }
        }
      ]
    }
  ]
}
